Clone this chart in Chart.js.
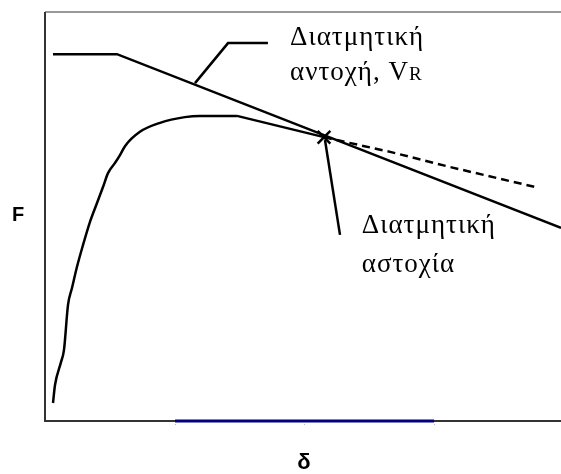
<!DOCTYPE html>
<html>
<head>
<meta charset="utf-8">
<script src="https://cdn.jsdelivr.net/npm/chart.js@4"></script>
<style>
  html, body { margin: 0; padding: 0; background: #fff; }
  #wrap { width: 561px; height: 474px; }
</style>
</head>
<body>
<div id="wrap"><canvas id="c" width="561" height="474"></canvas></div>
<script>
// axes run 0..100 in both directions (δ across, F up)
const resistX = [1.55, 13.95, 100];
const resistY = [89.7, 89.7, 47.2];

const curveX = [1.55, 1.94, 3.1, 3.68, 4.46, 5.23, 6.2, 7.36, 8.72, 10.08, 11.24, 12.21, 13.57, 14.53, 15.5, 18.4, 22.3, 27.1, 30.0, 37.2];
const curveY = [4.4, 8.8, 14.4, 17.4, 28.4, 32.5, 37.7, 43.0, 48.7, 53.3, 57.2, 60.6, 63.1, 65.0, 67.2, 70.7, 72.9, 74.3, 74.6, 74.6];

const softX = [37.2, 54.07];
const softY = [74.6, 69.4];

const postX = [54.07, 57.2, 66.9, 78.5, 87.6, 95.0];
const postY = [69.4, 68.5, 65.8, 62.1, 59.4, 57.2];

const failX = [54.07];
const failY = [69.4];

const lead1X = [29.07, 35.47, 43.2];
const lead1Y = [82.6, 92.4, 92.4];
const lead2X = [54.26, 57.17];
const lead2Y = [68.7, 45.5];

const spanX = [25.2, 75.4];
const spanY = [0, 0];

const pts = (xs, ys) => xs.map((x, i) => ({ x, y: ys[i] }));

const lineDs = (xs, ys, extra) => Object.assign({
  data: pts(xs, ys), borderColor: '#000', borderWidth: 2.5, pointRadius: 0,
  fill: false, tension: 0, clip: false,
}, extra || {});

const overlay = {
  id: 'overlay',
  beforeDatasetsDraw(chart) {
    const { ctx, chartArea: a } = chart;
    ctx.save();
    ctx.lineCap = 'butt';
    ctx.strokeStyle = '#999';
    ctx.lineWidth = 2;
    ctx.beginPath(); ctx.moveTo(a.left, a.top); ctx.lineTo(a.right, a.top); ctx.stroke();
    ctx.strokeStyle = '#333';
    ctx.beginPath(); ctx.moveTo(a.left, a.top); ctx.lineTo(a.left, a.bottom); ctx.lineTo(a.right, a.bottom); ctx.stroke();
    // little tick dots under the axis
    const x = chart.scales.x;
    ctx.fillStyle = '#bbb';
    [25.2, 50.2, 75.4].forEach(v => ctx.fillRect(Math.round(x.getPixelForValue(v)), a.bottom + 3, 1, 1));
    ctx.restore();
  },
  afterDraw(chart) {
    const { ctx } = chart;
    const x = chart.scales.x, y = chart.scales.y;
    ctx.save();
    ctx.fillStyle = '#000';
    ctx.textBaseline = 'alphabetic';
    ctx.textAlign = 'left';
    const serif = '"Liberation Serif", "Times New Roman", serif';
    ctx.letterSpacing = '1px';
    ctx.font = '27px ' + serif;
    ctx.fillText('Διατμητική', x.getPixelForValue(47.5), y.getPixelForValue(91.9));
    const t2 = 'αντοχή, V';
    const x2 = x.getPixelForValue(47.5), y2 = y.getPixelForValue(83.4);
    ctx.fillText(t2, x2, y2);
    const w2 = ctx.measureText(t2).width;
    ctx.font = '19px ' + serif;
    ctx.fillText('R', x2 + w2, y2);
    ctx.font = '27px ' + serif;
    ctx.fillText('Διατμητική', x.getPixelForValue(61.4), y.getPixelForValue(46.0));
    ctx.fillText('αστοχία', x.getPixelForValue(61.4), y.getPixelForValue(36.4));

    ctx.letterSpacing = '0px';
    ctx.font = 'bold 20px "Liberation Sans", Arial, sans-serif';
    ctx.textAlign = 'center';
    ctx.textBaseline = 'middle';
    ctx.fillText('F', 18, 215);
    ctx.font = 'bold 22px "Liberation Sans", Arial, sans-serif';
    ctx.fillText('δ', x.getPixelForValue(50.2), 463);
    ctx.restore();
  }
};

new Chart(document.getElementById('c'), {
  type: 'line',
  data: {
    datasets: [
      lineDs(spanX, spanY, { borderColor: '#000080', borderWidth: 3 }),
      lineDs(resistX, resistY),
      lineDs(curveX, curveY, { tension: 0.3, cubicInterpolationMode: 'monotone' }),
      lineDs(softX, softY),
      lineDs(postX, postY, { borderDash: [8, 5] }),
      lineDs(lead1X, lead1Y),
      lineDs(lead2X, lead2Y),
      { data: pts(failX, failY), showLine: false, pointStyle: 'crossRot', pointRadius: 9,
        borderColor: '#000', borderWidth: 2.5, clip: false },
    ],
  },
  options: {
    responsive: false,
    animation: false,
    layout: { autoPadding: false, padding: { left: 45, top: 12, right: 0, bottom: 53 } },
    plugins: { legend: { display: false }, tooltip: { enabled: false } },
    scales: {
      x: { type: 'linear', min: 0, max: 100, display: false },
      y: { type: 'linear', min: 0, max: 100, display: false },
    },
  },
  plugins: [overlay],
});
</script>
</body>
</html>
